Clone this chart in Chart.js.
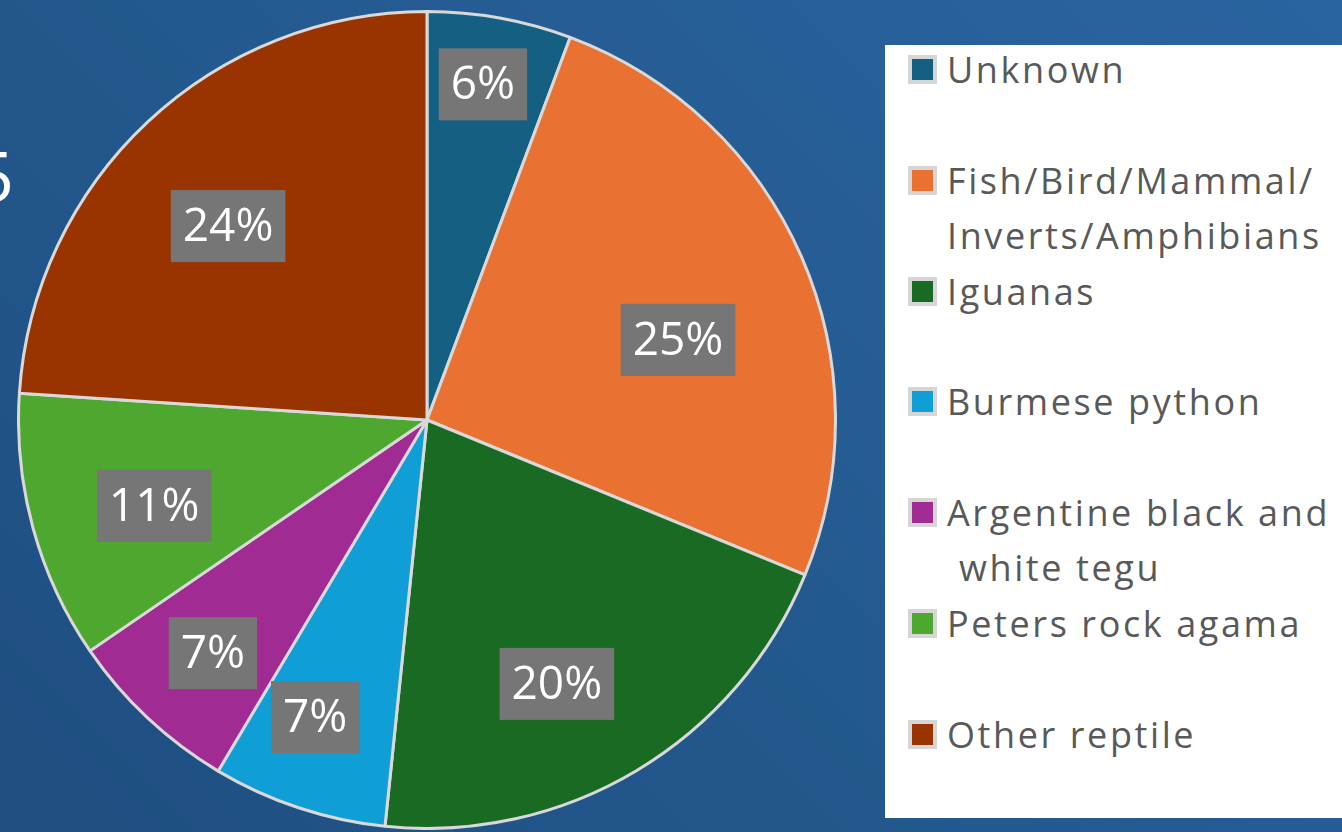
<!DOCTYPE html>
<html>
<head>
<meta charset="utf-8">
<script src="https://cdn.jsdelivr.net/npm/chart.js@4.4.1/dist/chart.umd.min.js"></script>
<style>
  html, body { margin: 0; padding: 0; }
  body {
    width: 1342px; height: 832px; overflow: hidden; position: relative;
    background: linear-gradient(45deg, #1f4e80 0%, #245a90 50%, #2a64a0 100%);
    font-family: "Open Sans", sans-serif;
  }
  .cut-title { position: absolute; left: -26px; top: 140px; color: #fff; font-size: 70px; line-height: 1; }
  .chart-wrap { position: absolute; left: 17px; top: 10px; width: 820px; height: 820px; }
  .legend-box { position: absolute; left: 885px; top: 45px; width: 470px; height: 773px; background: #fff; }
  .legend-item { position: absolute; left: 23px; color: #595959; font-size: 36px; line-height: 55px; letter-spacing: 2.6px; }
  .legend-item .sw { position: absolute; left: 0; top: 13px; width: 21px; height: 21px; border: 4px solid #d6d6d6; }
  .legend-item .txt { margin-left: 39px; white-space: pre; }
</style>
</head>
<body>
<div class="cut-title">5</div>
<div class="chart-wrap"><canvas id="myChart" width="820" height="820"></canvas></div>
<div class="legend-box" id="legend"></div>
<script>
// du lieu doc tu hinh
const labels = ['Unknown', 'Fish/Bird/Mammal/\nInverts/Amphibians', 'Iguanas', 'Burmese python',
  'Argentine black and\n white tegu', 'Peters rock agama', 'Other reptile'];
const values = [5.7, 25.49, 20.45, 6.9, 6.9, 10.6, 23.96];
const colors = ['#156082', '#e97132', '#196b24', '#0f9ed5', '#a02b93', '#4ea72e', '#993300'];

// vi tri nhan: ti le ban kinh + lech goc (do)
const labelRadius = [0.833, 0.645, 0.72, 0.777, 0.775, 0.70, 0.68];
const labelShift = [-0.8, 5.9, 4.7, 2.3, -0.6, -2.1, -2.6];

const pctLabels = {
  id: 'pctLabels',
  afterDatasetsDraw(chart) {
    const ctx = chart.ctx;
    const meta = chart.getDatasetMeta(0);
    const total = values.reduce((s, v) => s + v, 0);
    ctx.save();
    ctx.font = '46px "Open Sans", sans-serif';
    ctx.textAlign = 'center';
    ctx.textBaseline = 'middle';
    meta.data.forEach((arc, i) => {
      const p = arc.getProps(['x', 'y', 'startAngle', 'endAngle', 'outerRadius']);
      const mid = (p.startAngle + p.endAngle) / 2 + labelShift[i] * Math.PI / 180;
      const r = p.outerRadius * labelRadius[i];
      const x = p.x + Math.cos(mid) * r;
      const y = p.y + Math.sin(mid) * r;
      const txt = Math.round(values[i] / total * 100) + '%';
      const w = ctx.measureText(txt).width + 24;
      const h = 72;
      ctx.fillStyle = '#767676';
      ctx.fillRect(x - w / 2, y - h / 2, w, h);
      ctx.fillStyle = '#ffffff';
      ctx.fillText(txt, x, y + 2);
    });
    ctx.restore();
  }
};

const ctx = document.getElementById('myChart').getContext('2d');
new Chart(ctx, {
  type: 'pie',
  data: {
    labels: labels,
    datasets: [{
      data: values,
      backgroundColor: colors,
      borderColor: '#d9d9d9',
      borderWidth: 3
    }]
  },
  options: {
    responsive: false,
    animation: false,
    layout: { padding: 0 },
    plugins: {
      legend: { display: false },
      tooltip: { enabled: false }
    }
  },
  plugins: [pctLabels]
});

// legend html
const legend = document.getElementById('legend');
labels.forEach((name, i) => {
  const item = document.createElement('div');
  item.className = 'legend-item';
  item.style.top = (-3 + i * 110.8) + 'px';
  const sw = document.createElement('div');
  sw.className = 'sw';
  sw.style.background = colors[i];
  const txt = document.createElement('div');
  txt.className = 'txt';
  txt.textContent = name;
  item.appendChild(sw);
  item.appendChild(txt);
  legend.appendChild(item);
});
</script>
</body>
</html>
